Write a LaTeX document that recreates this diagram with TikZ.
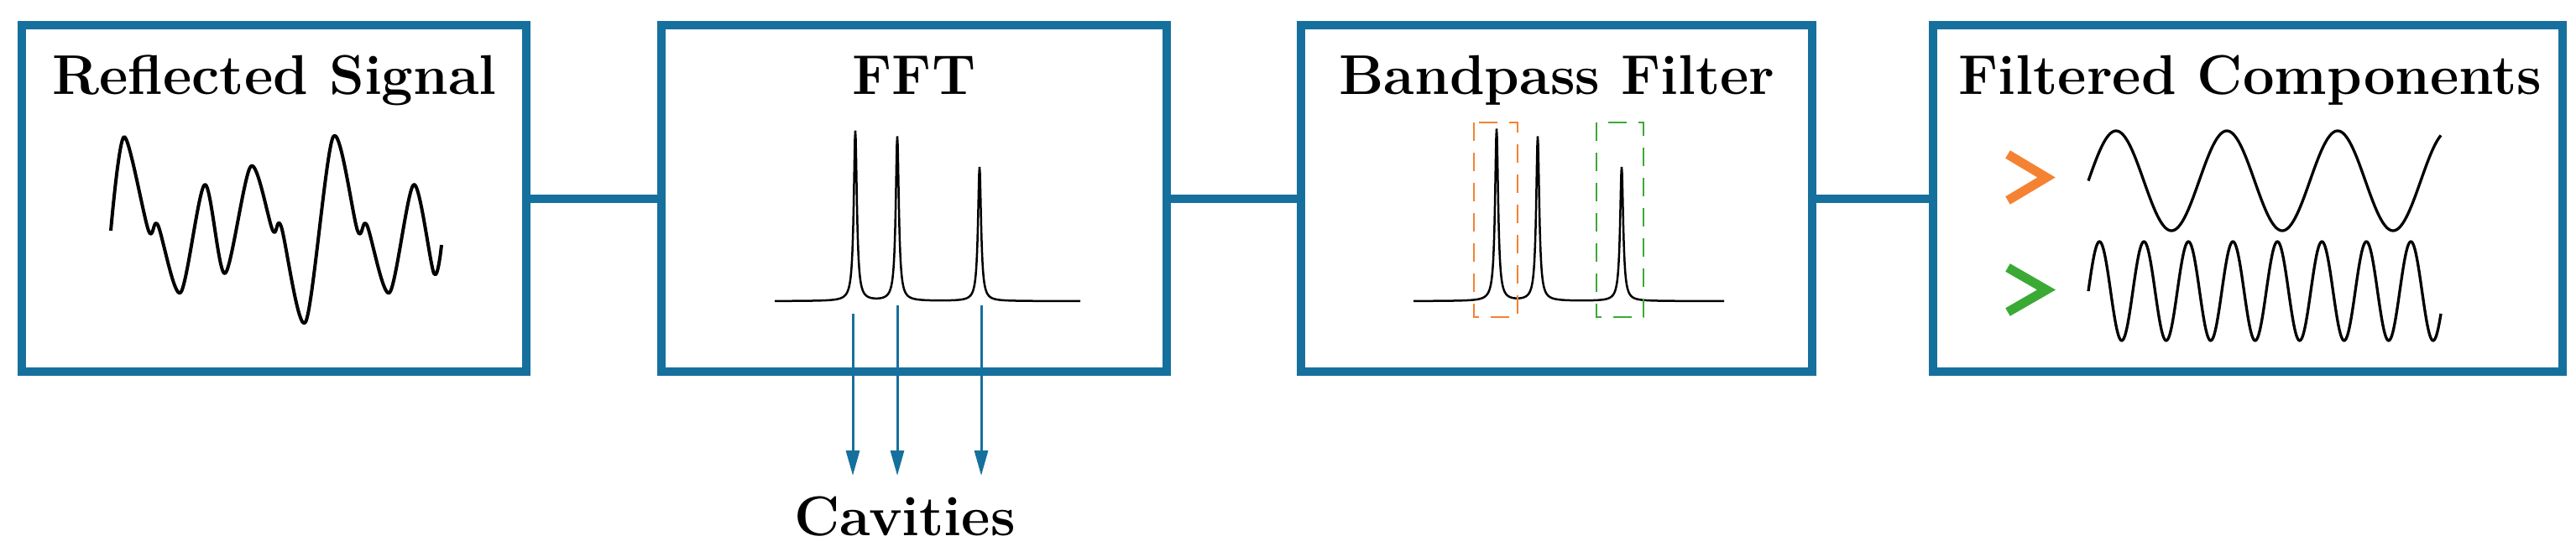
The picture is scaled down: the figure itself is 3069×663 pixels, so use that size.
\documentclass[tikz,border=0pt]{standalone}
\usetikzlibrary{arrows.meta}
\definecolor{bblue}{HTML}{16709D}
\definecolor{borange}{HTML}{F58233}
\definecolor{bgreen}{HTML}{3BAA35}
\begin{document}
\begin{tikzpicture}[x=0.1mm,y=-0.1mm,
  box/.style={draw=bblue,line width=1mm,rectangle,inner sep=0pt,minimum height=41.3mm},
  conn/.style={draw=bblue,line width=1mm},
  title/.style={font=\fontsize{19}{23}\selectfont\bfseries,anchor=base,inner sep=0pt},
  sig/.style={line width=0.4mm,black,line join=round},
  spec/.style={line width=0.25mm,black},
  cav/.style={draw=bblue,line width=0.3mm,-{Triangle[length=3mm,width=1.6mm]}},
  chev/.style={line width=1.1mm,line join=miter}]
\useasboundingbox (0,0) rectangle (3069,663);
\node[box,minimum width=60.1mm] (b1) at (326.5,236.5) {};
\node[box,minimum width=60.2mm] (b2) at (1089,236.5) {};
\node[box,minimum width=60.9mm] (b3) at (1854.5,236.5) {};
\node[box,minimum width=75.0mm] (b4) at (2678,236.5) {};
\draw[conn] (b1.east) -- (b2.west);
\draw[conn] (b2.east) -- (b3.west);
\draw[conn] (b3.east) -- (b4.west);
\node[title] (t1) at (327,112) {Reflected Signal};
\node[title] (t2) at (1089,112) {FFT};
\node[title] (t3) at (1855,112) {Bandpass Filter};
\node[title] (t4) at (2681,112) {Filtered Components};
% reflected signal
\draw[sig] plot[smooth,tension=0.5] coordinates {(132,275) (148,163) (177,275) (188,268) (215,349) (244,220) (268,326) (299,198) (325,275) (335,270) (364,384) (397,163) (426,275) (437,268) (464,349) (493,220) (517,326) (526,292)};
% FFT spectrum
\draw[spec] plot[domain=923:1287,samples=729] (\x,{359-203*0.05/(((\x-1019)/10)^2+0.05)-196*0.05/(((\x-1069)/10)^2+0.05)-160*0.05/(((\x-1167)/10)^2+0.05)});
\coordinate (a1) at (1016,374); \coordinate (e1) at (1016,567);
\coordinate (a2) at (1069,364); \coordinate (e2) at (1069,567);
\coordinate (a3) at (1169,364); \coordinate (e3) at (1169,567);
\draw[cav] (a1) -- (e1);
\draw[cav] (a2) -- (e2);
\draw[cav] (a3) -- (e3);
\node[title] (cv) at (1078,638) {Cavities};
% bandpass
\draw[spec] plot[domain=1684:2054,samples=741] (\x,{359-205*0.05/(((\x-1783)/10)^2+0.05)-196*0.05/(((\x-1832)/10)^2+0.05)-160*0.05/(((\x-1932)/10)^2+0.05)});
\draw[borange,line width=0.25mm,dash pattern=on 2.2mm off 1.4mm] (1756,146) rectangle (1808,378);
\draw[bgreen,line width=0.25mm,dash pattern=on 2.2mm off 1.4mm] (1902,146) rectangle (1958,378);
% filtered components
\draw[borange,chev] (2392,184) -- (2438,211.5) -- (2392,239);
\draw[bgreen,chev] (2392,319) -- (2438,345.5) -- (2392,372);
\draw[sig,line width=0.33mm] plot[domain=2488:2908,samples=300] (\x,{215.5-59.5*sin(((\x-2488)/132)*360)});
\draw[sig,line width=0.33mm] plot[domain=2488:2908,samples=500] (\x,{347-59*sin(((\x-2488)/53)*360)});
\end{tikzpicture}
\end{document}
